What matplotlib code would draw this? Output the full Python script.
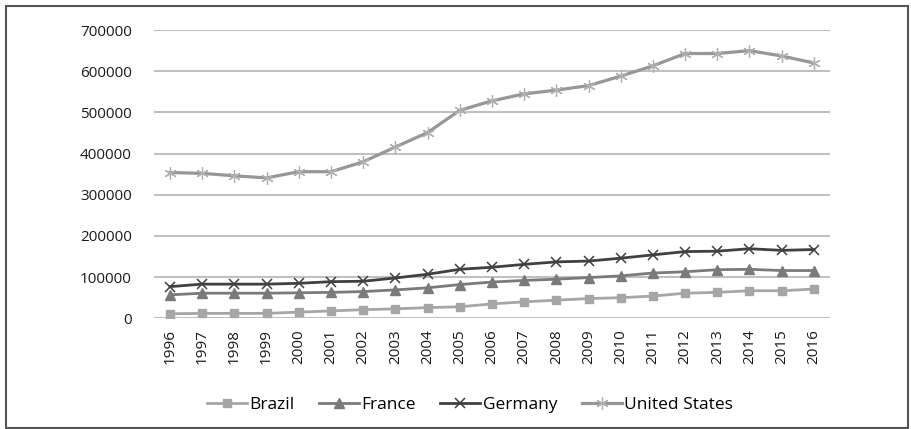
import numpy as np
import matplotlib.pyplot as plt
from matplotlib.patches import Rectangle

plt.rcParams['font.family'] = ['Open Sans', 'DejaVu Sans']

years = [str(y) for y in range(1996, 2017)]
brazil = [11000, 12000, 12000, 12000, 15000, 18000, 21000, 23000, 26000, 28000, 35000,
          40000, 44000, 48000, 50000, 54000, 61000, 63000, 67000, 67000, 71000]
france = [57000, 61000, 61000, 61000, 62000, 63000, 65000, 69000, 74000, 82000, 88000,
          92000, 95000, 99000, 103000, 110000, 113000, 118000, 119000, 116000, 116000]
germany = [77000, 83000, 83000, 83000, 85000, 89000, 90000, 98000, 107000, 119000, 124000,
           131000, 137000, 139000, 146000, 154000, 162000, 163000, 169000, 165000, 167000]
usa = [354000, 352000, 346000, 341000, 356000, 356000, 380000, 416000, 451000, 505000, 528000,
       545000, 554000, 565000, 588000, 613000, 643000, 643000, 650000, 637000, 620000]

fig = plt.figure(figsize=(9.11, 4.29), dpi=100)
ax = fig.add_axes([0.169, 0.258, 0.742, 0.672])

x = np.arange(len(years))
ax.plot(x, brazil, color='#a6a6a6', lw=2, marker='s', ms=6, label='Brazil')
ax.plot(x, france, color='#7a7a7a', lw=2, marker='^', ms=6.5, label='France')
ax.plot(x, germany, color='#404040', lw=2, marker='x', ms=7, mew=1.1, label='Germany')
ax.plot(x, usa, color='#979797', lw=2.3, marker=(6, 2, 0), ms=9, mew=0.9,
        mec='#b0b0b0', label='United States')

ax.set_xlim(-0.5, len(years) - 0.5)
ax.set_ylim(0, 700000)
ax.set_yticks(np.arange(0, 700001, 100000))
ax.set_yticklabels([str(v) for v in range(0, 700001, 100000)])
ax.set_xticks(x)
ax.set_xticklabels(years, rotation=90)
ax.tick_params(axis='both', length=0, labelsize=11, colors='#1a1a1a')
ax.tick_params(axis='y', pad=16)
ax.tick_params(axis='x', pad=8)
ax.grid(axis='y', color='#c0c0c0', lw=1.5)
ax.set_axisbelow(True)
for s in ax.spines.values():
    s.set_visible(False)

fig.legend(loc='center', bbox_to_anchor=(0.516, 0.056), ncol=4, frameon=False,
           fontsize=12.5, handlelength=2.3, handletextpad=0.15, columnspacing=1.4)

fig.patches.append(Rectangle((0.007, 0.003), 0.99, 0.983, transform=fig.transFigure,
                             fill=False, ec='#555555', lw=1.5))

fig.savefig('out.png', dpi=100)
